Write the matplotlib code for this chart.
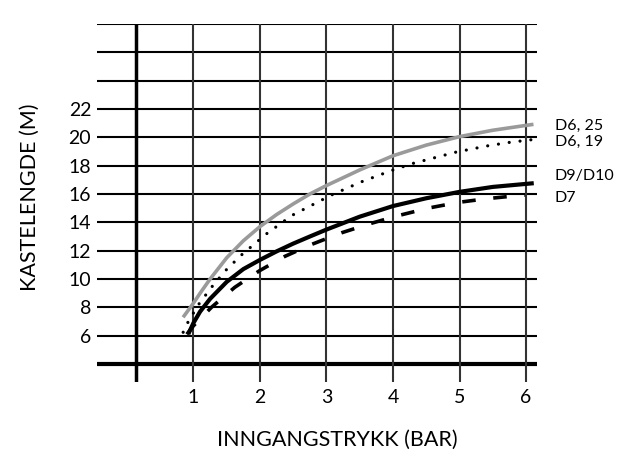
import matplotlib
matplotlib.use("Agg")
import matplotlib.pyplot as plt

plt.rcParams['font.family'] = ['Lato', 'DejaVu Sans']

# Grid / axis values
x_grid = [1, 2, 3, 4, 5, 6]
y_grid = [6, 8, 10, 12, 14, 16, 18, 20, 22, 24, 26, 28]
y_labels = [6, 8, 10, 12, 14, 16, 18, 20, 22]

# Curves
d625_x = [0.86, 1.0, 1.1, 1.25, 1.5, 1.75, 2.0, 2.25, 2.5, 2.75, 3.0, 3.5, 4.0, 4.5, 5.0, 5.5, 6.085]
d625_y = [7.4, 8.3, 9.0, 10.0, 11.5, 12.7, 13.7, 14.55, 15.3, 16.0, 16.6, 17.7, 18.7, 19.45, 20.05, 20.5, 20.9]

d619_x = [0.845, 0.91, 1.07, 1.27, 1.485, 1.72, 2.095, 2.485, 3.075, 3.525, 3.985, 4.3, 4.95, 5.435, 5.76, 6.1]
d619_y = [6.24, 6.89, 8.16, 9.41, 10.61, 11.69, 13.18, 14.5, 15.93, 16.86, 17.67, 18.16, 18.96, 19.41, 19.65, 19.84]

d910_x = [0.935, 1.0, 1.1, 1.25, 1.5, 1.75, 2.0, 2.25, 2.5, 2.75, 3.0, 3.5, 4.0, 4.5, 5.0, 5.5, 6.085]
d910_y = [6.24, 6.9, 7.7, 8.6, 9.8, 10.7, 11.35, 11.95, 12.5, 13.0, 13.49, 14.4, 15.15, 15.7, 16.15, 16.5, 16.75]

d7_x = [0.9, 1.0, 1.27, 1.62, 1.995, 2.375, 2.775, 3.225, 3.65, 4.075, 4.535, 4.985, 5.41, 5.86, 5.985]
d7_y = [6.1, 6.7, 8.0, 9.41, 10.59, 11.6, 12.44, 13.26, 13.9, 14.47, 15.01, 15.41, 15.67, 15.88, 15.92]

fig = plt.figure(figsize=(6.17, 4.5), dpi=100)
ax = fig.add_axes([96.7 / 617, 1 - 382 / 450, 440.3 / 617, 358 / 450])
ax.set_xlim(-0.455, 6.165)
ax.set_ylim(2.73, 28)
for s in ax.spines.values():
    s.set_visible(False)

# grid
for y in y_grid:
    ax.axhline(y, color='black', lw=1.5, zorder=1)
ax.axhline(4, color='black', lw=3, zorder=1)
for x in x_grid:
    ax.axvline(x, color='#333333', lw=1.5, zorder=1)
ax.axvline(0.13, color='black', lw=2.5, zorder=1)

# curves
ax.plot(d625_x, d625_y, color='#9a9a9a', lw=2.6, zorder=3)
ax.plot(d619_x, d619_y, color='black', lw=2.3, linestyle=(0, (0.01, 3.4)),
        dash_capstyle='round', zorder=3)
ax.plot(d910_x, d910_y, color='black', lw=3, zorder=3)
ax.plot(d7_x, d7_y, color='black', lw=2.6, linestyle=(0, (3.75, 4.9)), zorder=3)

ax.set_xticks(x_grid)
ax.set_yticks(y_labels)
ax.tick_params(axis='both', length=0, labelsize=14, colors='black')
ax.tick_params(axis='x', pad=5)
ax.tick_params(axis='y', pad=4)

# series labels on the right
ax.text(6.43, 20.8, 'D6, 25', fontsize=11.5, va='center', ha='left', clip_on=False)
ax.text(6.43, 19.65, 'D6, 19', fontsize=11.5, va='center', ha='left', clip_on=False)
ax.text(6.43, 17.3, 'D9/D10', fontsize=11.5, va='center', ha='left', clip_on=False)
ax.text(6.43, 15.7, 'D7', fontsize=11.5, va='center', ha='left', clip_on=False)

fig.text(337 / 617, 1 - 440 / 450, 'INNGANGSTRYKK (BAR)', fontsize=15.5,
         ha='center', va='center')
fig.text(30 / 617, 1 - 197 / 450, 'KASTELENGDE (M)', fontsize=15.5,
         ha='center', va='center', rotation=90)

fig.savefig('out.png', dpi=100)
